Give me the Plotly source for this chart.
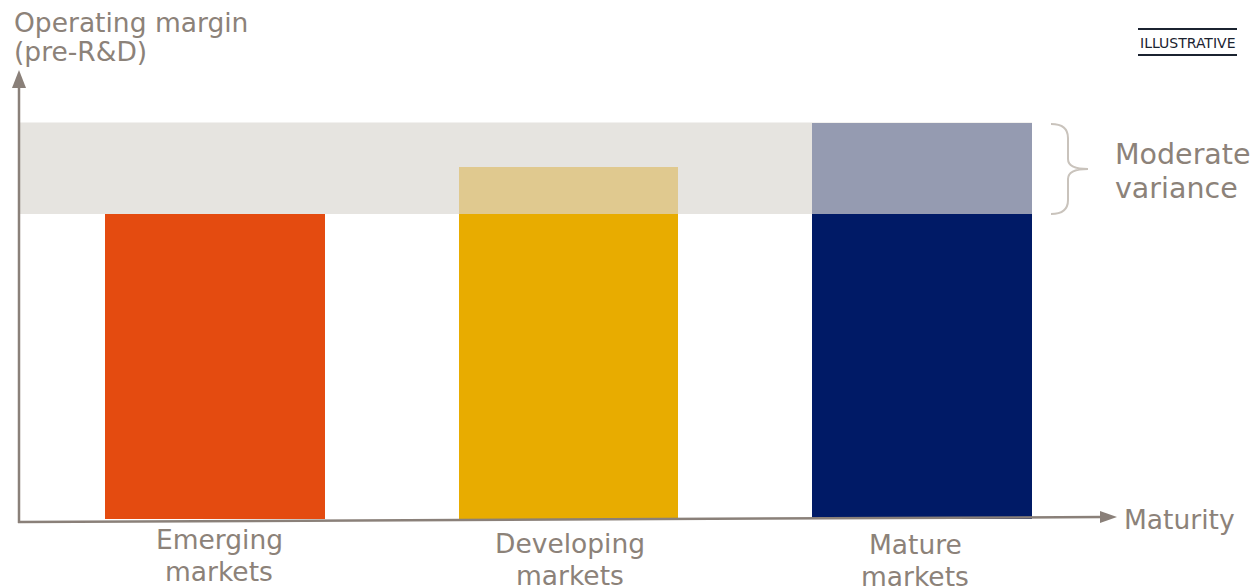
import plotly.graph_objects as go

# Market segments and operating margin levels (illustrative units)
categories = ["Emerging markets", "Developing markets", "Mature markets"]
base_margin = [10.0, 10.0, 10.0]
upside_margin = [0.0, 1.55, 3.0]
band_low = 10.0
band_high = 13.0

base_colors = ["#E44B10", "#E8AC00", "#001A66"]
upside_colors = ["#E44B10", "#E0C98F", "#959BB1"]

FONT = "DejaVu Sans"
TEXT = "#8C8279"
AXIS = "#8A8079"
W, H = 1254, 586


def px(x):
    return x / W


def py(y):
    return 1 - y / H


fig = go.Figure()
fig.add_trace(go.Bar(x=categories, y=base_margin, marker_color=base_colors,
                     width=0.622, marker_line_width=0, hoverinfo="skip"))
fig.add_trace(go.Bar(x=categories, y=upside_margin, marker_color=upside_colors,
                     width=0.622, marker_line_width=0, hoverinfo="skip"))

shapes = []
# variance band behind the bars
shapes.append(dict(type="rect", xref="paper", yref="y", x0=px(20), x1=px(1032),
                   y0=band_low, y1=band_high, fillcolor="#E6E4E0",
                   line_width=0, layer="below"))
# brace next to the band
shapes.append(dict(
    type="path", xref="paper", yref="paper",
    path=(f"M {px(1051)} {py(124)} Q {px(1068)} {py(124)} {px(1068)} {py(138)} "
          f"L {px(1068)} {py(159)} Q {px(1068)} {py(169)} {px(1088)} {py(169)} "
          f"Q {px(1068)} {py(169)} {px(1068)} {py(179)} "
          f"L {px(1068)} {py(200)} Q {px(1068)} {py(214)} {px(1051)} {py(214)}"),
    line=dict(color="#C9C3BC", width=2)))
# vertical axis with arrow
shapes.append(dict(type="line", xref="paper", yref="paper", x0=px(19), y0=py(523),
                   x1=px(19), y1=py(84), line=dict(color=AXIS, width=2.5)))
shapes.append(dict(type="path", xref="paper", yref="paper",
                   path=f"M {px(19)} {py(70)} L {px(12)} {py(88)} L {px(26)} {py(88)} Z",
                   fillcolor=AXIS, line_width=0))
# horizontal axis with arrow
shapes.append(dict(type="line", xref="paper", yref="paper", x0=px(18), y0=py(522),
                   x1=px(1103), y1=py(517), line=dict(color=AXIS, width=2.5)))
shapes.append(dict(type="path", xref="paper", yref="paper",
                   path=f"M {px(1117)} {py(517)} L {px(1100)} {py(511)} L {px(1100)} {py(523)} Z",
                   fillcolor=AXIS, line_width=0))
# rules around the ILLUSTRATIVE tag
for yy in (29, 55):
    shapes.append(dict(type="line", xref="paper", yref="paper", x0=px(1138), x1=px(1237),
                       y0=py(yy), y1=py(yy), line=dict(color="#1B2330", width=2)))


def text_line(text, x, y, size, xanchor="left", color=TEXT, xref="paper", xshift=0):
    return dict(text=text, xref=xref, yref="paper", x=x, y=py(y), xshift=xshift,
                xanchor=xanchor, yanchor="middle", showarrow=False,
                font=dict(family=FONT, size=size, color=color))


annotations = [
    text_line("Operating margin", px(12), 22, 26.5),
    text_line("(pre-R&D)", px(12), 52, 26.5),
    text_line("ILLUSTRATIVE", px(1187), 43, 14, xanchor="center", color="#1B2330"),
    text_line("Moderate", px(1113), 154, 28.5),
    text_line("variance", px(1113), 188, 28.5),
    text_line("Maturity", px(1122), 519, 26.5),
]
label_rows = [(539, 571), (543, 575), (544, 576)]
label_shift = [4, 1, -7]
for cat, (y1, y2), dx in zip(categories, label_rows, label_shift):
    first, second = cat.split(" ")
    annotations.append(text_line(first, cat, y1, 26.5, xanchor="center", xref="x", xshift=dx))
    annotations.append(text_line(second, cat, y2, 26.5, xanchor="center", xref="x", xshift=dx))

# pixel-matched scales: category 0 at x=215px, 353.5px per category;
# margin 0 at y=519px, 30.5px per unit
x_lo = -215 / 353.5
x_hi = 2 + (W - 922) / 353.5
y_hi = 519 / 30.5
y_lo = -(H - 519) / 30.5

fig.update_layout(
    barmode="stack",
    width=W, height=H,
    margin=dict(l=0, r=0, t=0, b=0),
    paper_bgcolor="white", plot_bgcolor="white",
    showlegend=False,
    font=dict(family=FONT, color=TEXT),
    xaxis=dict(range=[x_lo, x_hi], visible=False, fixedrange=True),
    yaxis=dict(range=[y_lo, y_hi], visible=False, fixedrange=True),
    shapes=shapes,
    annotations=annotations,
)

fig.write_html("out.html")
